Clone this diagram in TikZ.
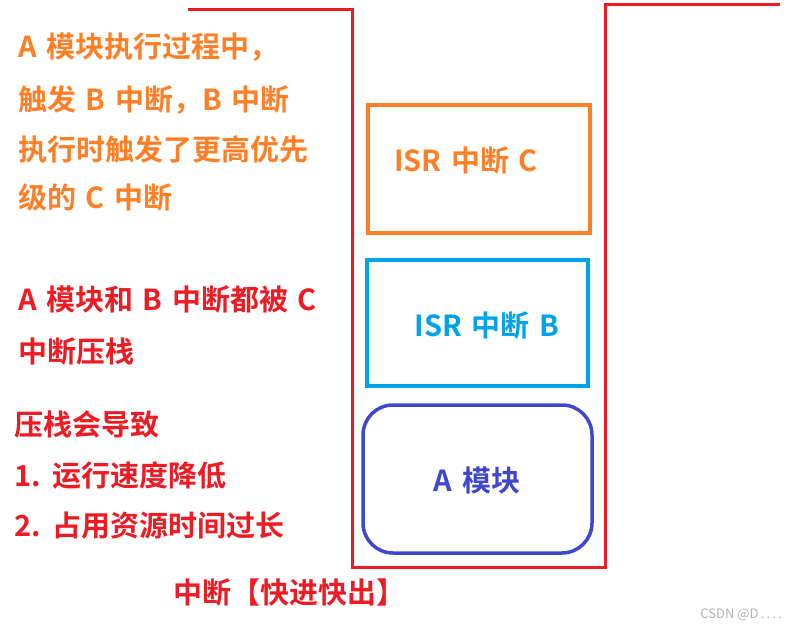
\documentclass[tikz,border=0pt]{standalone}
\usepackage{fontspec}
\setmainfont{Noto Sans CJK SC}[BoldFont={* Bold}, BoldFeatures={WordSpace=1.45}]
\definecolor{porange}{HTML}{FF7F27}
\definecolor{pred}{HTML}{ED1C24}
\definecolor{pblue}{HTML}{00A2E8}
\definecolor{pindigo}{HTML}{3F48CC}
\tikzset{
  lbl/.style={anchor=base west, inner sep=0pt, font=\fontsize{29}{33}\selectfont\bfseries},
  boxlbl/.style={inner sep=0pt, font=\fontsize{29}{33}\selectfont\bfseries},
  frame/.style={draw=pred, line width=3pt},
}
\begin{document}
\begin{tikzpicture}[x=1pt,y=-1pt]
\useasboundingbox (0,0) rectangle (787,628);
% stack outline
\coordinate (t1) at (188,10);
\coordinate (t2) at (352,10);
\coordinate (b1) at (352,567);
\coordinate (b2) at (605,567);
\coordinate (t3) at (605,5);
\coordinate (t4) at (780,5);
\draw[frame, line join=miter] (t1) -- (t2) -- (b1) -- (b2) -- (t3) -- (t4);
% boxes
\node[draw=porange, line width=3.5pt, minimum width=222pt, minimum height=128pt, inner sep=0pt] (boxC) at (479,169) {};
\node[draw=pblue, line width=3.5pt, minimum width=221pt, minimum height=126pt, inner sep=0pt] (boxB) at (477.5,323) {};
\node[draw=pindigo, line width=3.5pt, rounded corners=30pt, minimum width=229pt, minimum height=148pt, inner sep=0pt] (boxA) at (477.5,479) {};
\node[boxlbl, text=porange] (lc) at (466,161) {ISR 中断 C};
\node[boxlbl, text=pblue] (lb) at (487,326) {ISR 中断 B};
\node[boxlbl, text=pindigo] (la) at (477,481) {A 模块};
% left texts
\node[lbl, text=porange] (o1) at (18,58) {A 模块执行过程中，};
\node[lbl, text=porange] (o2) at (18,111) {触发 B 中断，B 中断};
\node[lbl, text=porange] (o3) at (18,161) {执行时触发了更高优先};
\node[lbl, text=porange] (o4) at (18,209) {级的 C 中断};
\node[lbl, text=pred] (r1) at (18,311) {A 模块和 B 中断都被 C};
\node[lbl, text=pred] (r2) at (18,362) {中断压栈};
\node[lbl, text=pred] (r3) at (14,435) {压栈会导致};
\node[lbl, text=pred] (r4) at (14,486) {1. 运行速度降低};
\node[lbl, text=pred] (r5) at (14,536) {2. 占用资源时间过长};
\node[lbl, text=pred] (bt) at (173,603) {中断【快进快出】};
\node[anchor=base east, inner sep=0pt, text=black!30, font=\fontsize{13}{15}\selectfont] (wm) at (782,618) {CSDN @D\,.\,.\,.\,.};
\end{tikzpicture}
\end{document}
